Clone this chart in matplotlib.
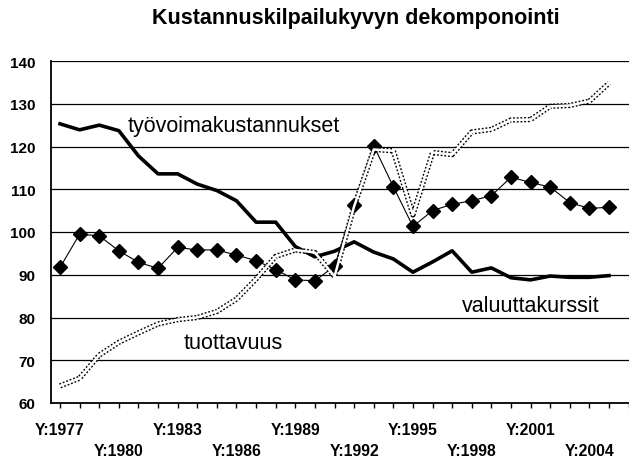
import matplotlib
matplotlib.use('Agg')
import matplotlib.pyplot as plt

# data (index values)
years = list(range(1977, 2006))
tyovoima = [125.3, 123.9, 125.0, 123.7, 117.8, 113.6, 113.6, 111.2, 109.7, 107.3,
            102.3, 102.3, 96.6, 94.2, 95.5, 97.7, 95.3, 93.7, 90.6, 93.0,
            95.6, 90.6, 91.6, 89.3, 88.8, 89.7, 89.4, 89.4, 89.8]
kilpailukyky = [91.7, 99.5, 99.1, 95.6, 92.9, 91.5, 96.4, 95.8, 95.8, 94.6,
                93.3, 91.2, 88.8, 88.6, 92.0, 106.4, 120.2, 110.6, 101.3, 105.0,
                106.5, 107.3, 108.5, 112.8, 111.6, 110.5, 106.9, 105.5, 105.8]
tuottavuus = [64.0, 65.8, 71.2, 74.2, 76.4, 78.5, 79.5, 80.0, 81.4, 84.3,
              89.0, 94.3, 95.8, 95.2, 89.6, 106.0, 119.3, 119.0, 104.0, 118.6,
              118.1, 123.4, 124.0, 126.2, 126.3, 129.4, 129.6, 130.6, 134.8]
tick_years = list(range(1977, 2007))
y_ticks = list(range(60, 141, 10))
title = 'Kustannuskilpailukyvyn dekomponointi'

plt.rcParams['font.family'] = ['Liberation Sans', 'DejaVu Sans']

fig = plt.figure(figsize=(6.29, 4.60), dpi=100)
ax = fig.add_axes([51 / 629, 56 / 460, 578 / 629, 342 / 460])

ax.set_xlim(1976.54, 2006.02)
ax.set_ylim(60, 140)

# horizontal gridlines
for v in y_ticks[1:]:
    ax.axhline(v, color='black', lw=0.9, zorder=1)

# labour costs: thick black line
ax.plot(years, tyovoima, color='black', lw=2.6, zorder=2, solid_joinstyle='round')

# competitiveness: thin line with diamonds
ax.plot(years, kilpailukyky, color='black', lw=0.8, marker='D', markersize=6.8,
        zorder=3)

# productivity: dotted double line (black dotted rails, white core)
ax.plot(years, tuottavuus, color='black', lw=3.8, dashes=(0.35, 0.35), zorder=4)
ax.plot(years, tuottavuus, color='white', lw=1.8, zorder=5)

# inline series labels
ax.text(1980.47, 123.7, 'työvoimakustannukset', fontsize=15.5, va='baseline', ha='left')
ax.text(1983.28, 72.8, 'tuottavuus', fontsize=15.5, va='baseline', ha='left')
ax.text(1997.51, 81.6, 'valuuttakurssit', fontsize=15.5, va='baseline', ha='left')

for side in ['top', 'right']:
    ax.spines[side].set_visible(False)
ax.spines['left'].set_linewidth(1.3)
ax.spines['bottom'].set_linewidth(1.3)

ax.set_yticks(y_ticks)
ax.set_yticklabels([str(v) for v in y_ticks], fontsize=11, fontweight='bold')
ax.tick_params(axis='y', length=0, pad=11)

labels = []
for yr in tick_years:
    k = (yr - 1977) % 6
    if yr > 2004:
        labels.append('')
    elif k == 0:
        labels.append(f'Y:{yr}')
    elif k == 3:
        labels.append(f'\nY:{yr}')
    else:
        labels.append('')
ax.set_xticks(tick_years)
ax.set_xticklabels(labels, fontsize=11.3, fontweight='bold')
for lbl in ax.get_xticklabels():
    lbl.set_linespacing(1.45)
ax.tick_params(axis='x', direction='out', length=3.8, width=1.0, pad=10)

fig.text(356 / 629, 1 - 24 / 460, title, fontsize=15.5, fontweight='bold',
         ha='center', va='baseline')

fig.savefig('out.png', dpi=100)
